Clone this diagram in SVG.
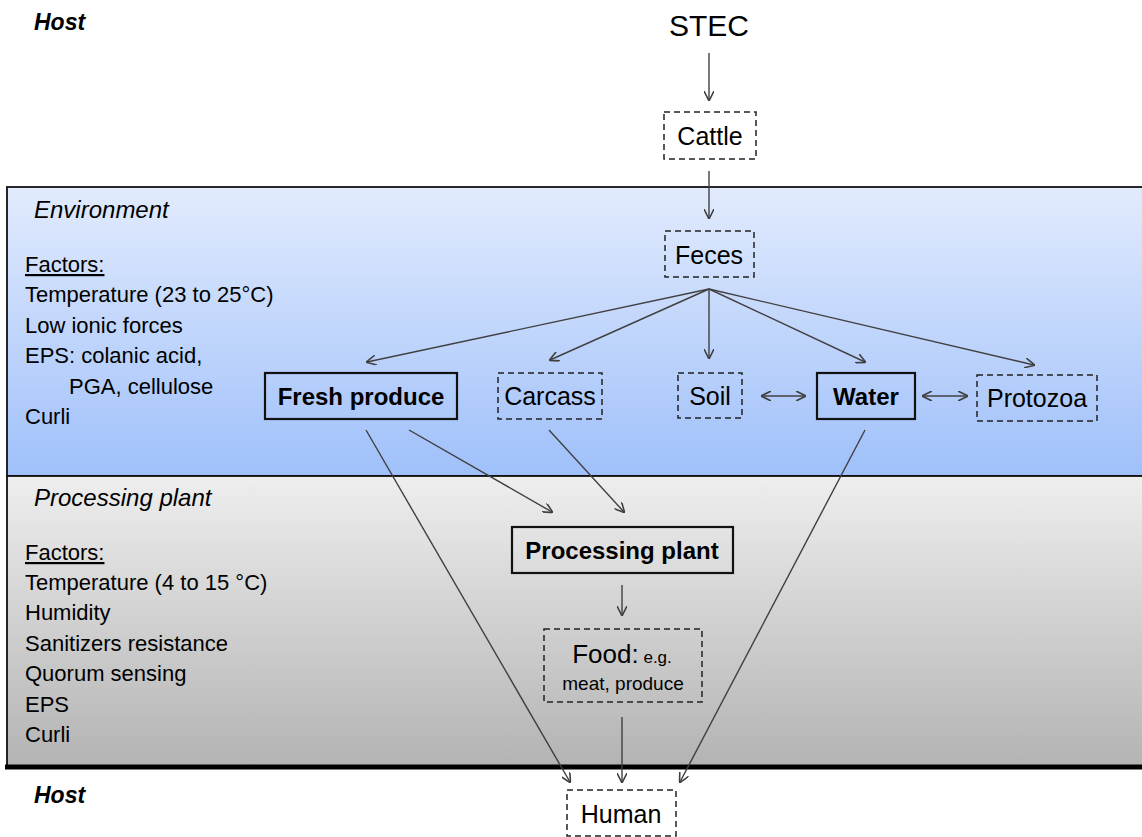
<svg xmlns="http://www.w3.org/2000/svg" width="1142" height="837" viewBox="0 0 1142 837">
<defs>
<linearGradient id="gEnv" x1="0" y1="0" x2="0" y2="1">
<stop offset="0" stop-color="#e2ebfd"/>
<stop offset="1" stop-color="#9fc0fa"/>
</linearGradient>
<linearGradient id="gProc" x1="0" y1="0" x2="0" y2="1">
<stop offset="0" stop-color="#eeeeee"/>
<stop offset="1" stop-color="#b3b3b3"/>
</linearGradient>
<marker id="ah" viewBox="0 0 10 10" refX="9" refY="5" markerWidth="10" markerHeight="10" markerUnits="userSpaceOnUse" orient="auto-start-reverse">
<path d="M0,0 L10,5 L0,10" fill="none" stroke="#404040" stroke-width="1.6"/>
</marker>
<style>
text{font-family:"Liberation Sans",Arial,sans-serif;fill:#000;}
.lbl{font-size:22px;}
.hdr{font-size:24px;font-style:italic;}
.host{font-size:23px;font-style:italic;font-weight:bold;}
.dash{fill:none;stroke:#222;stroke-width:1.5;stroke-dasharray:6,4;}
.solid{fill:none;stroke:#111;stroke-width:2.2;}
.nt{font-size:25px;text-anchor:middle;}
.nb{font-size:24px;text-anchor:middle;font-weight:bold;}
.c{stroke:#404040;stroke-width:1.4;fill:none;marker-end:url(#ah);}
.cb{stroke:#404040;stroke-width:1.4;fill:none;marker-end:url(#ah);marker-start:url(#ah);}
</style>
</defs>
<g id="bands">
<rect x="7" y="187" width="1140" height="289" fill="url(#gEnv)" stroke="#111" stroke-width="1.8"/>
<rect x="7" y="476" width="1140" height="291" fill="url(#gProc)" stroke="#111" stroke-width="1.8"/>
<line x1="5" y1="767" x2="1142" y2="767" stroke="#000" stroke-width="5"/>
</g>
<g id="labels">
<text class="host" x="34" y="30">Host</text>
<text class="host" x="34" y="803">Host</text>
<text class="hdr" x="34" y="218">Environment</text>
<text class="hdr" x="34" y="506">Processing plant</text>
<text class="lbl" x="25" y="272" text-decoration="underline">Factors:</text>
<text class="lbl" x="25" y="302">Temperature (23 to 25°C)</text>
<text class="lbl" x="25" y="333">Low ionic forces</text>
<text class="lbl" x="25" y="363">EPS: colanic acid,</text>
<text class="lbl" x="69" y="394">PGA, cellulose</text>
<text class="lbl" x="25" y="424">Curli</text>
<text class="lbl" x="25" y="560" text-decoration="underline">Factors:</text>
<text class="lbl" x="25" y="590">Temperature (4 to 15 °C)</text>
<text class="lbl" x="25" y="620">Humidity</text>
<text class="lbl" x="25" y="651">Sanitizers resistance</text>
<text class="lbl" x="25" y="681">Quorum sensing</text>
<text class="lbl" x="25" y="712">EPS</text>
<text class="lbl" x="25" y="742">Curli</text>
</g>
<g id="connectors">
<line class="c" x1="709" y1="53" x2="709" y2="100"/>
<line class="c" x1="709" y1="171" x2="709" y2="218"/>
<line class="c" x1="709" y1="289" x2="367" y2="362"/>
<line class="c" x1="709" y1="289" x2="550" y2="360"/>
<line class="c" x1="709" y1="289" x2="709" y2="358"/>
<line class="c" x1="709" y1="289" x2="865" y2="362"/>
<line class="c" x1="709" y1="289" x2="1034" y2="365"/>
<line class="cb" x1="762" y1="396" x2="805" y2="396"/>
<line class="cb" x1="923" y1="396" x2="967" y2="396"/>
<line class="c" x1="366" y1="430" x2="570" y2="782"/>
<line class="c" x1="409" y1="430" x2="552" y2="512"/>
<line class="c" x1="549" y1="430" x2="624" y2="512"/>
<line class="c" x1="865" y1="430" x2="680" y2="782"/>
<line class="c" x1="622" y1="585" x2="622" y2="615"/>
<line class="c" x1="622" y1="717" x2="622" y2="782"/>
</g>
<g id="n-stec"><text x="709" y="36" font-size="30" text-anchor="middle">STEC</text></g>
<g id="n-cattle"><rect class="dash" x="664" y="112" width="92" height="47"/><text class="nt" x="710" y="145">Cattle</text></g>
<g id="n-feces"><rect class="dash" x="665" y="231" width="89" height="46"/><text class="nt" x="709" y="264">Feces</text></g>
<g id="n-fresh"><rect class="solid" x="265" y="373" width="192" height="46"/><text class="nb" x="361" y="405">Fresh produce</text></g>
<g id="n-carcass"><rect class="dash" x="498" y="373" width="104" height="46"/><text class="nt" x="550" y="405">Carcass</text></g>
<g id="n-soil"><rect class="dash" x="678" y="373" width="64" height="45"/><text class="nt" x="710" y="405">Soil</text></g>
<g id="n-water"><rect class="solid" x="817" y="373" width="98" height="46"/><text class="nb" x="866" y="405">Water</text></g>
<g id="n-protozoa"><rect class="dash" x="977" y="375" width="120" height="46"/><text class="nt" x="1037" y="407">Protozoa</text></g>
<g id="n-plant"><rect class="solid" x="512" y="527" width="221" height="46"/><text class="nb" x="622" y="559">Processing plant</text></g>
<g id="n-food"><rect class="dash" x="544" y="629" width="158" height="73"/><text x="622" y="663" text-anchor="middle"><tspan font-size="26">Food:</tspan><tspan font-size="17"> e.g.</tspan></text><text x="623" y="690" font-size="19" text-anchor="middle">meat, produce</text></g>
<g id="n-human"><rect class="dash" x="567" y="790" width="109" height="46"/><text class="nt" x="621" y="823">Human</text></g>
</svg>
